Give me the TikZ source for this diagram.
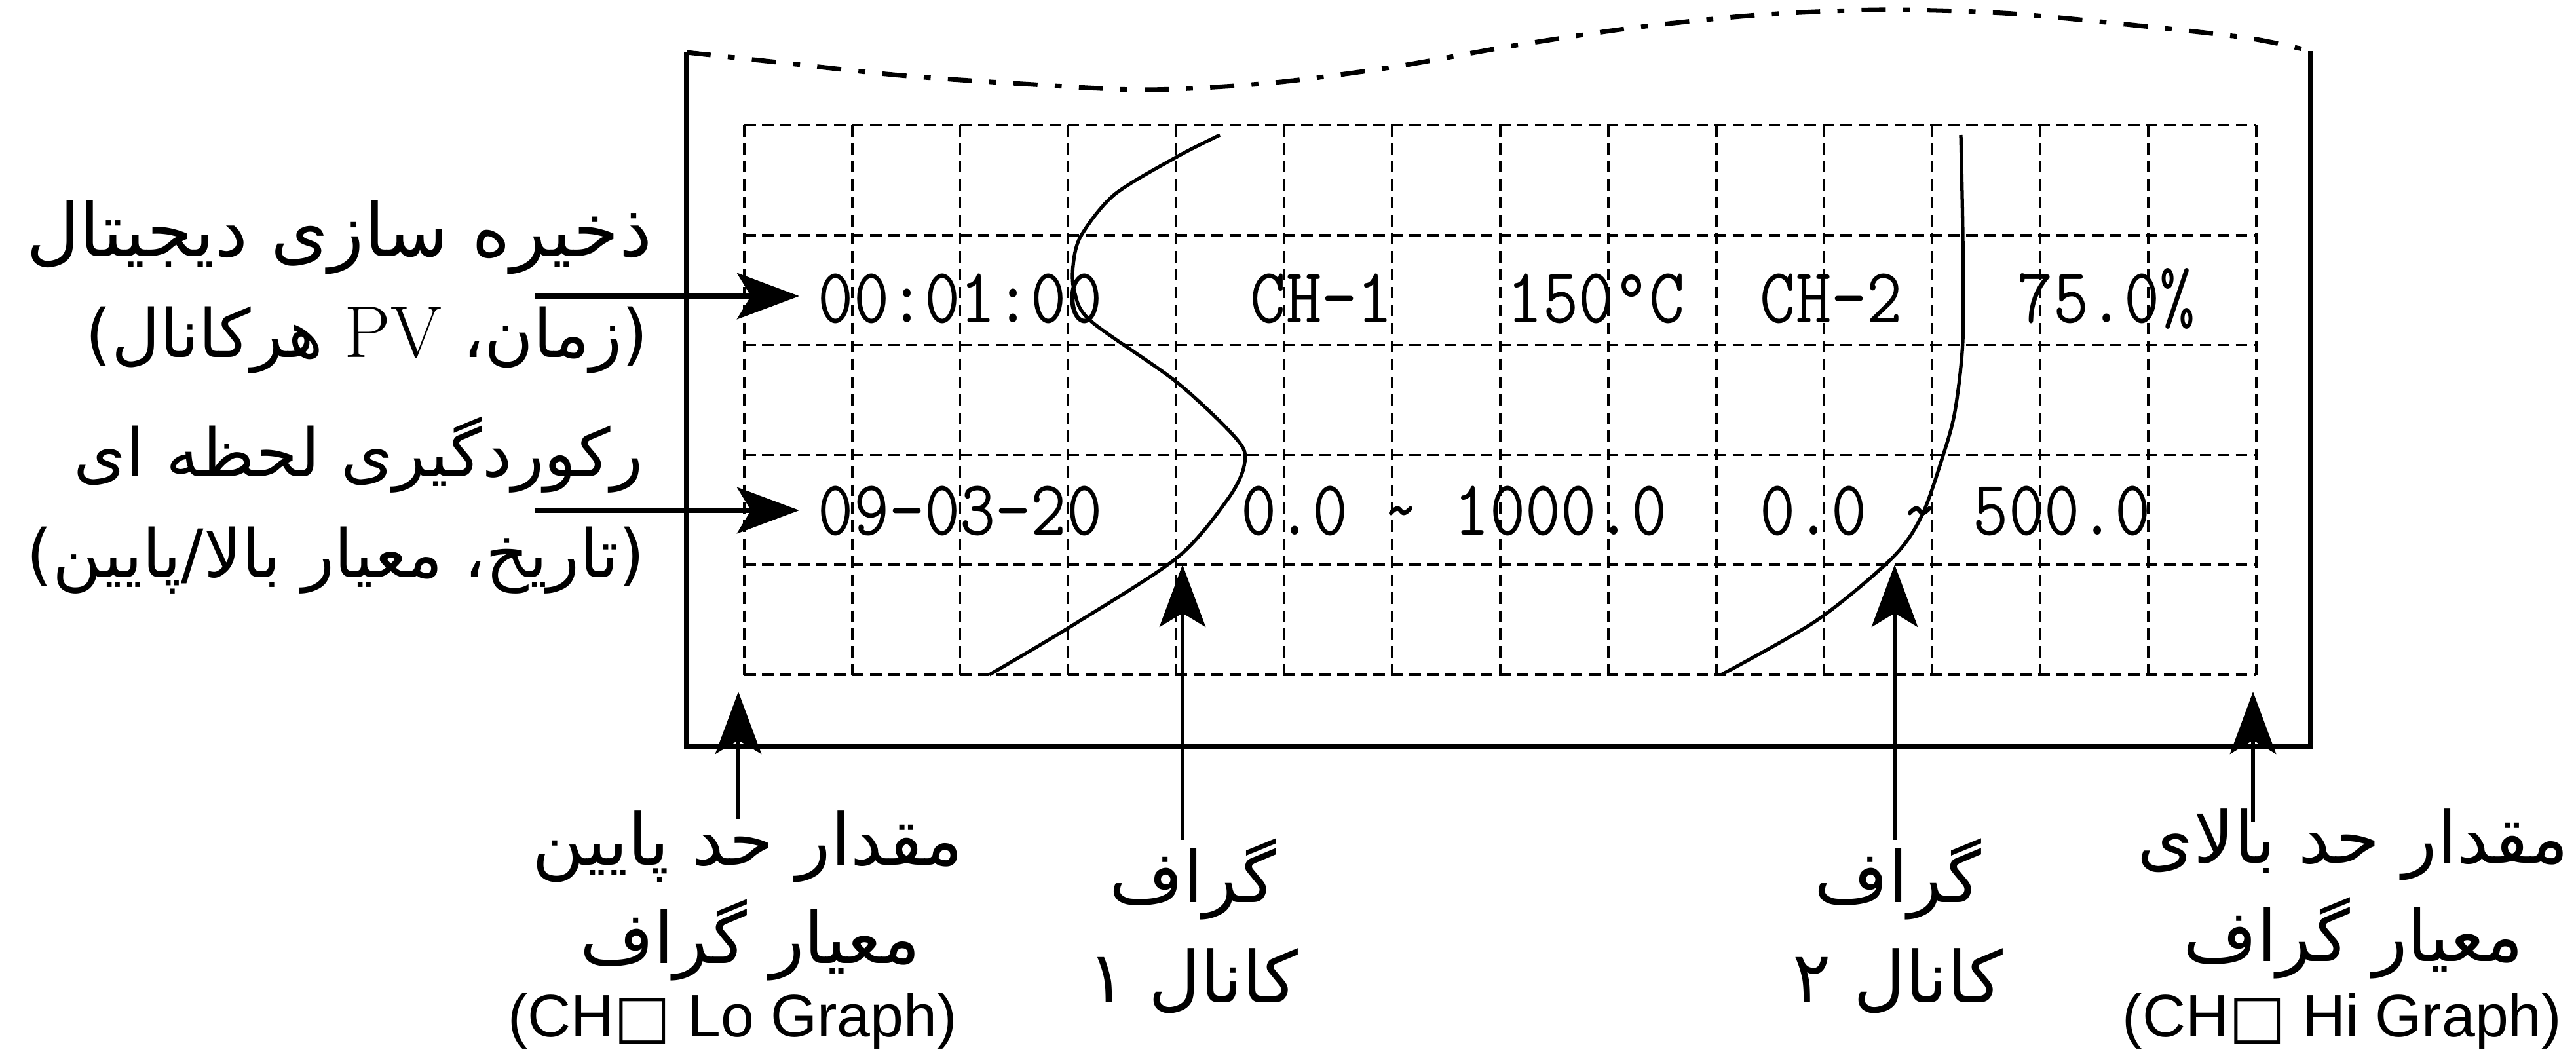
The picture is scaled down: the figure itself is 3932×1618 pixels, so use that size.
\documentclass[tikz,border=0pt]{standalone}
\usepackage{fontspec}
\usepackage{graphicx}
\usetikzlibrary{arrows.meta}
\TeXXeTstate=1
\newfontfamily\fafont[Script=Arabic]{DejaVu Sans}
\newfontfamily\ensans{Liberation Sans}
\newfontfamily\symfont{DejaVu Sans}
\newcommand{\fa}[1]{{\fafont\beginR #1\endR}}
\newcommand{\lcd}[1]{\scalebox{0.88}[1]{\ttfamily #1}}

\begin{document}
\begin{tikzpicture}[x=0.01cm,y=-0.01cm,
  boxline/.style={line width=2.1pt},
  wave/.style={line width=2pt,dash pattern=on 10.5pt off 7.5pt on 3pt off 7.5pt},
  gridline/.style={line width=1pt,dash pattern=on 5pt off 2.8pt},
  trace/.style={line width=1.5pt},
  tip/.style={-{Stealth[length=27pt,width=20pt,inset=6pt]}},
  inarrow/.style={tip,line width=2.2pt},
  uparrow/.style={tip,line width=1.6pt},
  lcdtext/.style={anchor=base west,inner sep=8pt,font=\fontsize{34}{40}\selectfont},
  fatext/.style={inner sep=0pt,font=\fontsize{31}{36}\selectfont},
  leftfa/.style={fatext,anchor=base east,font=\fontsize{#1}{36}\selectfont},
  entext/.style={anchor=base,inner sep=0pt,font=\fontsize{26}{30}\selectfont\ensans}]
\useasboundingbox (0,0) rectangle (3932,1618);

\foreach \i in {0,...,14}
  \draw[gridline] ({1136+\i*164.86},191) -- ({1136+\i*164.86},1030);
\foreach \j in {0,...,5}
  \draw[gridline] (1136,{191+\j*167.8}) -- (3444,{191+\j*167.8});

\draw[boxline] (1048,80) -- (1048,1140) -- (3527,1140) -- (3527,78);
\draw[wave] plot[smooth] coordinates {(1048,80) (1187,95) (1374,115) (1561,128)
  (1748,137) (1935,127) (2122,103) (2309,70) (2496,42) (2683,23) (2870,15)
  (3057,20) (3244,37) (3431,58) (3527,78)};

\draw[trace] plot[smooth] coordinates {(1862,206) (1797,239) (1701,297) (1650,360)
  (1638,405) (1640,445) (1665,490) (1797,584) (1890,673) (1899,711) (1874,762)
  (1797,851) (1638,954) (1510,1030)};
\draw[trace] plot[smooth] coordinates {(2993,206) (2996,360) (2996,520) (2984,628)
  (2965,698) (2933,788) (2888,852) (2773,947) (2627,1030)};

\node[lcdtext] (time) at (1220,492) {\lcd{00:01:00}};
\node[lcdtext] (ch1) at (1880,492) {\lcd{CH-1}};
\node[lcdtext] (ch1v) at (2272,492) {\lcd{150\textdegree C}};
\node[lcdtext] (ch2) at (2658,492) {\lcd{CH-2}};
\node[lcdtext] (ch2v) at (3051,492) {\lcd{75.0\%}};
\node[lcdtext] (date) at (1220,816) {\lcd{09\textendash 03\textendash 20}};
\node[lcdtext] (rng1) at (1866,816) {\lcd{0.0 \textasciitilde{} 1000.0}};
\node[lcdtext] (rng2) at (2658,816) {\lcd{0.0 \textasciitilde{} 500.0}};

\node[leftfa=32] (ds1) at (996,391) {\fa{ذخیره سازی دیجیتال}};
\node[leftfa=29] (ds2) at (990,545) {\fa{(زمان، \beginL{\rmfamily\fontsize{32}{36}\selectfont PV}\endL\ هرکانال)}};
\node[leftfa=29] (sn1) at (982,727) {\fa{رکوردگیری لحظه ای}};
\node[leftfa=29] (sn2) at (985,881) {\fa{(تاریخ، معیار بالا/پایین)}};

\node[fatext,anchor=base] (lo1) at (1141,1320) {\fa{مقدار حد پایین}};
\node[fatext,anchor=base] (lo2) at (1145,1470) {\fa{معیار گراف}};
\node[entext] (lo3) at (1118,1582) {(CH{\symfont □} Lo Graph)};
\node[fatext,anchor=base] (g1a) at (1821,1377) {\fa{گراف}};
\node[fatext,anchor=base] (g1b) at (1821,1530) {\fa{کانال ۱}};
\node[fatext,anchor=base] (g2a) at (2897,1377) {\fa{گراف}};
\node[fatext,anchor=base] (g2b) at (2897,1530) {\fa{کانال ۲}};
\node[fatext,anchor=base] (hi1) at (3592,1317) {\fa{مقدار حد بالای}};
\node[fatext,anchor=base] (hi2) at (3592,1467) {\fa{معیار گراف}};
\node[entext] (hi3) at (3575,1582) {(CH{\symfont □} Hi Graph)};

\coordinate (dsFrom) at (817,452);
\coordinate (snFrom) at (817,779);
\coordinate (loTip) at (1127,1056);
\coordinate (g1Tip) at (1805,862);
\coordinate (g2Tip) at (2892,862);
\coordinate (hiTip) at (3439,1056);
\draw[inarrow] (dsFrom) -- (dsFrom -| time.west);
\draw[inarrow] (snFrom) -- (snFrom -| date.west);
\draw[uparrow,shorten <=20pt] (lo1.base -| loTip) -- (loTip);
\draw[uparrow,shorten <=27pt] (g1a.base -| g1Tip) -- (g1Tip);
\draw[uparrow,shorten <=27pt] (g2a.base -| g2Tip) -- (g2Tip);
\draw[uparrow,shorten <=18pt] (hi1.base -| hiTip) -- (hiTip);
\end{tikzpicture}
\end{document}
